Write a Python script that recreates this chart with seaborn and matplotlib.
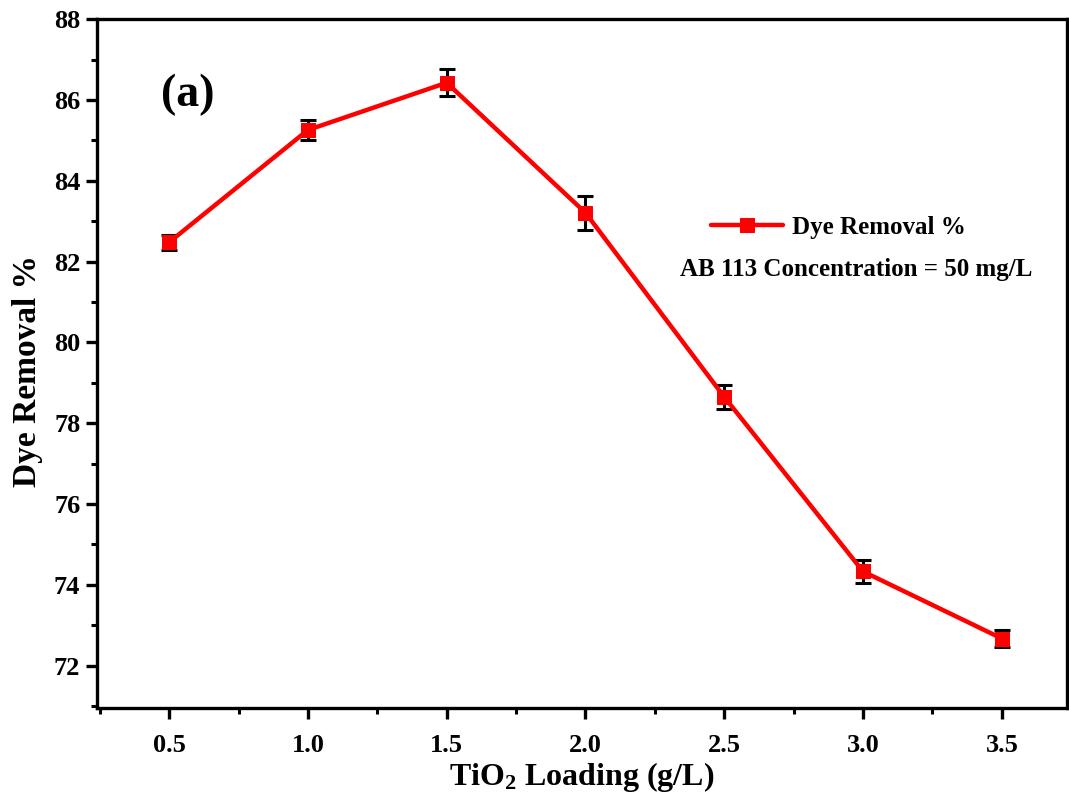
import matplotlib
matplotlib.use("Agg")
import matplotlib.pyplot as plt
from matplotlib.ticker import MultipleLocator
import pandas as pd
import seaborn as sns

# TiO2 loading (g/L) vs dye removal (%)
loading = [0.5, 1.0, 1.5, 2.0, 2.5, 3.0, 3.5]
removal = [82.48, 85.26, 86.43, 83.21, 78.65, 74.33, 72.67]
removal_err = [0.19, 0.24, 0.34, 0.42, 0.30, 0.28, 0.20]

x_ticks = [0.5, 1.0, 1.5, 2.0, 2.5, 3.0, 3.5]
y_ticks = [72, 74, 76, 78, 80, 82, 84, 86, 88]


def main() -> None:
    sns.set_theme(style="ticks")
    plt.rcParams["font.family"] = ["Liberation Serif", "DejaVu Serif"]
    plt.rcParams["font.weight"] = "bold"
    plt.rcParams["mathtext.default"] = "regular"
    plt.rcParams["text.color"] = "black"
    plt.rcParams["axes.labelcolor"] = "black"
    plt.rcParams["xtick.color"] = "black"
    plt.rcParams["ytick.color"] = "black"

    df = pd.DataFrame({"loading": loading, "removal": removal, "err": removal_err})

    fig = plt.figure(figsize=(10.69, 8.05), dpi=100)
    ax = fig.add_axes([0.0907, 0.1205, 0.9075, 0.8555])

    ax.errorbar(df["loading"], df["removal"], yerr=df["err"], fmt="none",
                ecolor="black", elinewidth=2.2, capsize=6, capthick=2.2, zorder=2)
    sns.lineplot(data=df, x="loading", y="removal", ax=ax, color="#ff0000",
                 linewidth=3.2, marker="s", markersize=10, markeredgecolor="#ff0000",
                 label="Dye Removal %", zorder=3)

    ax.set_xlim(0.24, 3.735)
    ax.set_ylim(70.95, 88)
    ax.set_xticks(x_ticks)
    ax.set_yticks(y_ticks)
    ax.xaxis.set_minor_locator(MultipleLocator(0.25))
    ax.yaxis.set_minor_locator(MultipleLocator(1))

    for side in ["left", "bottom", "top", "right"]:
        ax.spines[side].set_linewidth(2.4)
        ax.spines[side].set_color("black")

    ax.tick_params(axis="both", which="major", direction="out", length=8, width=2.4,
                   labelsize=19, color="black", labelcolor="black")
    ax.tick_params(axis="both", which="minor", direction="out", length=4.5, width=2.2,
                   color="black")
    ax.tick_params(axis="x", which="major", pad=11)
    ax.tick_params(axis="y", which="major", pad=4)
    for lbl in ax.get_xticklabels() + ax.get_yticklabels():
        lbl.set_fontweight("bold")

    ax.set_xlabel("TiO$_2$ Loading (g/L)", fontsize=23, fontweight="bold", color="black")
    ax.set_ylabel("Dye Removal %", fontsize=24, fontweight="bold", color="black")
    ax.xaxis.set_label_coords(0.5, -0.075)
    ax.yaxis.set_label_coords(-0.056, 0.49)

    ax.text(0.094, 0.89, "(a)", transform=ax.transAxes, fontsize=33,
            fontweight="bold", ha="center", va="center", color="black")

    leg = ax.legend(loc="center left", bbox_to_anchor=(0.62, 0.698), frameon=False,
                    fontsize=18, handlelength=2.9, handletextpad=0.35, borderpad=0)
    for t in leg.get_texts():
        t.set_fontweight("bold")
        t.set_color("black")
    ax.text(0.601, 0.636, "AB 113 Concentration = 50 mg/L", transform=ax.transAxes,
            fontsize=18, fontweight="bold", ha="left", va="center", color="black")

    fig.savefig("out.png", dpi=100)
    plt.close(fig)


if __name__ == "__main__":
    main()
